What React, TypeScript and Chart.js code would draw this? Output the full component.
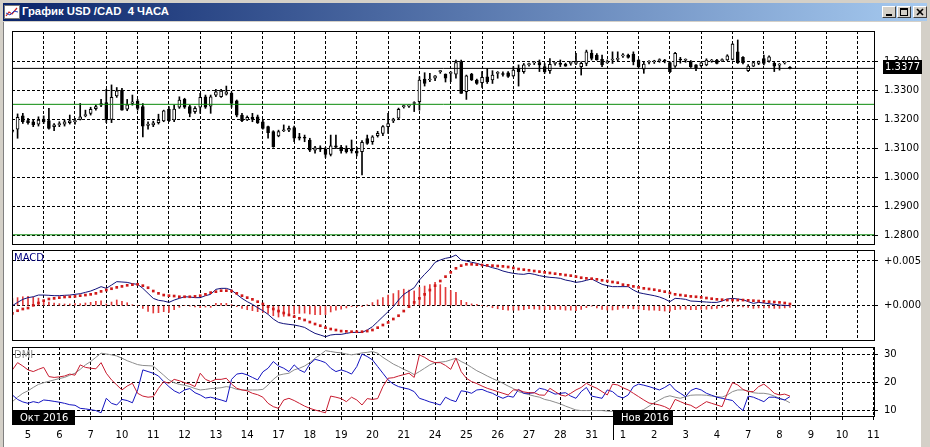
import React, { useEffect, useRef } from "react";
import { Chart, registerables } from "chart.js";

Chart.register(...registerables);

// ---------------- data ----------------
const dayLabels = ["5", "6", "7", "10", "11", "12", "13", "14", "17", "18", "19", "20", "21", "24", "25", "26", "27", "28", "31", "1", "2", "3", "4", "7", "8", "9", "10", "11"];
const monthLabels = ["Окт 2016", "Нов 2016"];

const opens = [
  1.3162, 1.3167, 1.3213, 1.3197, 1.3193, 1.3185, 1.3202, 1.3197, 1.3176, 1.3182,
  1.3185, 1.3190, 1.3193, 1.3201, 1.3214, 1.3222, 1.3238, 1.3250, 1.3259, 1.3201,
  1.3282, 1.3302, 1.3236, 1.3256, 1.3264, 1.3245, 1.3180, 1.3182, 1.3190, 1.3196,
  1.3236, 1.3199, 1.3243, 1.3270, 1.3245, 1.3228, 1.3243, 1.3279, 1.3247, 1.3285,
  1.3279, 1.3288, 1.3291, 1.3265, 1.3216, 1.3199, 1.3208, 1.3210, 1.3193, 1.3176,
  1.3159, 1.3144, 1.3162, 1.3164, 1.3173, 1.3141, 1.3139, 1.3130, 1.3095, 1.3103,
  1.3098, 1.3080, 1.3110, 1.3105, 1.3100, 1.3098, 1.3092, 1.3090, 1.3135, 1.3124,
  1.3145, 1.3153, 1.3176, 1.3196, 1.3205, 1.3245, 1.3247, 1.3256, 1.3262, 1.3340,
  1.3337, 1.3343, 1.3366, 1.3357, 1.3360, 1.3357, 1.3400, 1.3297, 1.3357, 1.3337,
  1.3328, 1.3348, 1.3337, 1.3360, 1.3358, 1.3362, 1.3351, 1.3377, 1.3366, 1.3390,
  1.3396, 1.3397, 1.3383, 1.3369, 1.3394, 1.3392, 1.3392, 1.3394, 1.3394, 1.3383,
  1.3394, 1.3429, 1.3423, 1.3408, 1.3397, 1.3406, 1.3408, 1.3420, 1.3423, 1.3426,
  1.3406, 1.3374, 1.3398, 1.3400, 1.3404, 1.3404, 1.3397, 1.3385, 1.3408, 1.3405,
  1.3400, 1.3389, 1.3386, 1.3389, 1.3402, 1.3406, 1.3404, 1.3406, 1.3408, 1.3434,
  1.3415, 1.3369, 1.3385, 1.3394, 1.3411, 1.3402, 1.3394, 1.3388, 1.3396, 1.3380,
];
const highs = [
  1.3167, 1.3220, 1.3222, 1.3205, 1.3199, 1.3210, 1.3213, 1.3239, 1.3187, 1.3193,
  1.3199, 1.3216, 1.3205, 1.3256, 1.3233, 1.3243, 1.3250, 1.3270, 1.3305, 1.3320,
  1.3311, 1.3308, 1.3270, 1.3285, 1.3270, 1.3256, 1.3193, 1.3195, 1.3219, 1.3233,
  1.3245, 1.3250, 1.3279, 1.3274, 1.3250, 1.3245, 1.3291, 1.3285, 1.3285, 1.3305,
  1.3305, 1.3316, 1.3296, 1.3268, 1.3222, 1.3213, 1.3222, 1.3216, 1.3199, 1.3178,
  1.3162, 1.3164, 1.3182, 1.3178, 1.3178, 1.3153, 1.3147, 1.3136, 1.3108, 1.3110,
  1.3105, 1.3147, 1.3147, 1.3112, 1.3110, 1.3130, 1.3105, 1.3128, 1.3147, 1.3145,
  1.3160, 1.3180, 1.3222, 1.3205, 1.3240, 1.3250, 1.3252, 1.3262, 1.3348, 1.3362,
  1.3360, 1.3352, 1.3370, 1.3358, 1.3366, 1.3406, 1.3406, 1.3354, 1.3360, 1.3340,
  1.3366, 1.3377, 1.3369, 1.3366, 1.3365, 1.3366, 1.3383, 1.3389, 1.3394, 1.3395,
  1.3400, 1.3406, 1.3394, 1.3411, 1.3398, 1.3406, 1.3395, 1.3400, 1.3429, 1.3400,
  1.3440, 1.3440, 1.3428, 1.3423, 1.3406, 1.3434, 1.3434, 1.3428, 1.3426, 1.3434,
  1.3408, 1.3400, 1.3404, 1.3405, 1.3410, 1.3408, 1.3400, 1.3432, 1.3415, 1.3410,
  1.3404, 1.3390, 1.3400, 1.3410, 1.3408, 1.3408, 1.3410, 1.3424, 1.3463, 1.3475,
  1.3418, 1.3390, 1.3400, 1.3402, 1.3423, 1.3420, 1.3400, 1.3394, 1.3399, 1.3383,
];
const lows = [
  1.3155, 1.3136, 1.3187, 1.3185, 1.3176, 1.3178, 1.3187, 1.3167, 1.3162, 1.3176,
  1.3178, 1.3185, 1.3185, 1.3199, 1.3210, 1.3216, 1.3233, 1.3245, 1.3190, 1.3190,
  1.3277, 1.3233, 1.3231, 1.3250, 1.3233, 1.3141, 1.3167, 1.3176, 1.3185, 1.3193,
  1.3193, 1.3193, 1.3239, 1.3239, 1.3210, 1.3222, 1.3222, 1.3239, 1.3222, 1.3279,
  1.3277, 1.3285, 1.3243, 1.3210, 1.3193, 1.3197, 1.3193, 1.3187, 1.3167, 1.3136,
  1.3105, 1.3141, 1.3159, 1.3159, 1.3124, 1.3130, 1.3124, 1.3090, 1.3085, 1.3090,
  1.3070, 1.3075, 1.3100, 1.3085, 1.3085, 1.3085, 1.3075, 1.3010, 1.3115, 1.3115,
  1.3140, 1.3145, 1.3153, 1.3190, 1.3200, 1.3240, 1.3242, 1.3228, 1.3233, 1.3316,
  1.3331, 1.3335, 1.3360, 1.3330, 1.3331, 1.3343, 1.3291, 1.3270, 1.3335, 1.3322,
  1.3311, 1.3325, 1.3325, 1.3343, 1.3350, 1.3346, 1.3348, 1.3316, 1.3360, 1.3385,
  1.3390, 1.3366, 1.3360, 1.3360, 1.3388, 1.3383, 1.3384, 1.3388, 1.3390, 1.3354,
  1.3386, 1.3406, 1.3405, 1.3383, 1.3394, 1.3394, 1.3402, 1.3415, 1.3412, 1.3389,
  1.3380, 1.3360, 1.3392, 1.3394, 1.3398, 1.3396, 1.3362, 1.3380, 1.3395, 1.3398,
  1.3380, 1.3369, 1.3382, 1.3386, 1.3398, 1.3392, 1.3400, 1.3404, 1.3406, 1.3394,
  1.3392, 1.3366, 1.3383, 1.3390, 1.3389, 1.3398, 1.3366, 1.3371, 1.3392, 1.3375,
];
const closes = [
  1.3160, 1.3208, 1.3193, 1.3190, 1.3182, 1.3199, 1.3193, 1.3170, 1.3182, 1.3187,
  1.3193, 1.3196, 1.3197, 1.3210, 1.3216, 1.3236, 1.3245, 1.3256, 1.3201, 1.3277,
  1.3300, 1.3233, 1.3251, 1.3262, 1.3239, 1.3178, 1.3185, 1.3189, 1.3199, 1.3231,
  1.3197, 1.3237, 1.3268, 1.3243, 1.3222, 1.3239, 1.3277, 1.3243, 1.3279, 1.3296,
  1.3299, 1.3296, 1.3256, 1.3216, 1.3197, 1.3208, 1.3201, 1.3189, 1.3170, 1.3155,
  1.3107, 1.3159, 1.3164, 1.3170, 1.3136, 1.3136, 1.3136, 1.3095, 1.3103, 1.3098,
  1.3080, 1.3110, 1.3105, 1.3092, 1.3090, 1.3092, 1.3085, 1.3122, 1.3118, 1.3141,
  1.3153, 1.3176, 1.3187, 1.3201, 1.3236, 1.3245, 1.3248, 1.3257, 1.3337, 1.3325,
  1.3338, 1.3351, 1.3366, 1.3343, 1.3361, 1.3397, 1.3291, 1.3351, 1.3337, 1.3325,
  1.3346, 1.3331, 1.3354, 1.3361, 1.3356, 1.3349, 1.3371, 1.3366, 1.3389, 1.3392,
  1.3397, 1.3389, 1.3366, 1.3391, 1.3394, 1.3391, 1.3385, 1.3394, 1.3396, 1.3394,
  1.3434, 1.3411, 1.3406, 1.3389, 1.3397, 1.3406, 1.3408, 1.3423, 1.3415, 1.3400,
  1.3383, 1.3392, 1.3400, 1.3401, 1.3406, 1.3402, 1.3366, 1.3429, 1.3406, 1.3406,
  1.3383, 1.3378, 1.3396, 1.3406, 1.3403, 1.3394, 1.3406, 1.3420, 1.3461, 1.3397,
  1.3397, 1.3385, 1.3397, 1.3400, 1.3394, 1.3417, 1.3385, 1.3389, 1.3397, 1.3377,
];
const greenLevels = [1.3253, 1.2803];
const lastPrice = 1.3377;
const priceTicks = [1.28, 1.29, 1.3, 1.31, 1.32, 1.33, 1.34];

// MACD values in thousandths (x0.001)
const macdMain = [
  0.0, 0.37, 0.71, 0.9, 1.0, 1.19, 1.19, 1.16, 1.12, 1.12,
  1.16, 1.19, 1.27, 1.34, 1.49, 1.64, 1.87, 2.13, 1.94, 2.31,
  2.69, 2.65, 2.61, 2.46, 2.39, 1.94, 1.38, 0.82, 0.6, 0.52,
  0.37, 0.63, 0.82, 1.0, 0.97, 0.9, 0.9, 1.12, 1.27, 1.83,
  1.94, 1.94, 1.75, 1.27, 0.82, 0.45, 0.15, -0.22, -0.56, -0.97,
  -1.49, -1.87, -2.01, -2.09, -2.16, -2.28, -2.43, -2.78, -3.1, -3.28,
  -3.47, -3.28, -3.21, -3.21, -3.1, -2.99, -2.99, -2.99, -2.72, -2.35,
  -1.79, -1.23, -0.67, -0.11, 0.63, 1.27, 1.64, 2.01, 2.87, 3.51,
  4.1, 4.85, 5.11, 5.3, 5.41, 5.67, 5.11, 5.0, 4.85, 4.74,
  4.55, 4.44, 4.25, 4.1, 3.88, 3.73, 3.62, 3.54, 3.51, 3.62,
  3.51, 3.36, 3.25, 3.17, 3.13, 3.06, 2.87, 2.76, 2.61, 2.69,
  2.84, 2.99, 2.69, 2.39, 2.24, 2.13, 2.13, 2.13, 2.13, 1.75,
  1.46, 1.34, 1.23, 1.12, 0.97, 0.75, 0.45, 0.82, 0.78, 0.71,
  0.52, 0.49, 0.45, 0.41, 0.37, 0.37, 0.52, 0.75, 0.82, 0.75,
  0.67, 0.45, 0.26, 0.37, 0.3, 0.22, 0.15, 0.07, 0.04, 0.0,
];
const macdSignal = [
  -0.86, -0.56, -0.37, -0.26, 0.04, 0.3, 0.56, 0.75, 0.82, 0.9,
  0.97, 1.0, 1.04, 1.12, 1.19, 1.27, 1.38, 1.6, 1.75, 1.9,
  2.05, 2.16, 2.28, 2.35, 2.39, 2.24, 2.01, 1.64, 1.38, 1.19,
  1.12, 1.08, 1.0, 1.0, 1.0, 1.04, 1.12, 1.27, 1.46, 1.57,
  1.68, 1.68, 1.64, 1.38, 1.12, 0.9, 0.71, 0.45, 0.19, -0.11,
  -0.37, -0.6, -0.82, -1.04, -1.23, -1.42, -1.6, -1.83, -2.05, -2.24,
  -2.46, -2.61, -2.72, -2.84, -2.87, -2.91, -2.91, -2.91, -2.84, -2.72,
  -2.46, -2.16, -1.87, -1.49, -1.12, -0.6, -0.11, 0.37, 0.82, 1.27,
  1.75, 2.24, 2.76, 3.25, 3.73, 4.18, 4.48, 4.63, 4.63, 4.59,
  4.55, 4.51, 4.48, 4.44, 4.4, 4.33, 4.22, 4.1, 4.03, 3.96,
  3.88, 3.81, 3.73, 3.66, 3.58, 3.51, 3.43, 3.36, 3.25, 3.13,
  3.06, 3.02, 2.95, 2.84, 2.76, 2.65, 2.57, 2.35, 2.28, 2.16,
  2.05, 1.94, 1.87, 1.79, 1.68, 1.57, 1.42, 1.27, 1.19, 1.12,
  1.04, 1.0, 0.93, 0.86, 0.78, 0.71, 0.67, 0.63, 0.63, 0.63,
  0.63, 0.6, 0.56, 0.52, 0.49, 0.45, 0.41, 0.37, 0.3, 0.19,
];
const macdHist = [
  0.8, 0.9, 1.0, 1.05, 0.95, 0.85, 0.6, 0.4, 0.3, 0.22,
  0.19, 0.19, 0.23, 0.22, 0.3, 0.37, 0.49, 0.53, 0.19, 0.41,
  0.64, 0.49, 0.33, 0.11, 0.0, -0.3, -0.63, -0.82, -0.78, -0.67,
  -0.75, -0.45, -0.18, 0.0, -0.03, -0.14, -0.22, -0.15, -0.19, 0.26,
  0.26, 0.26, 0.11, -0.11, -0.3, -0.45, -0.56, -0.67, -0.75, -0.86,
  -1.12, -1.27, -1.19, -1.05, -0.93, -0.86, -0.83, -0.93, -1.0, -1.0,
  -1.0, -0.7, -0.5, -0.4, -0.25, -0.1, -0.1, -0.1, 0.1, 0.35,
  0.65, 0.9, 1.2, 1.35, 1.7, 1.85, 1.75, 1.65, 2.05, 2.2,
  2.35, 2.6, 2.35, 2.05, 1.7, 1.5, 0.6, 0.37, 0.2, 0.15,
  0.0, -0.07, -0.23, -0.34, -0.45, -0.5, -0.5, -0.5, -0.45, -0.34,
  -0.37, -0.42, -0.45, -0.45, -0.42, -0.42, -0.5, -0.5, -0.55, -0.42,
  -0.22, -0.03, -0.26, -0.42, -0.48, -0.48, -0.42, -0.25, -0.3, -0.35,
  -0.4, -0.45, -0.5, -0.5, -0.55, -0.6, -0.6, -0.45, -0.4, -0.4,
  -0.45, -0.45, -0.4, -0.4, -0.35, -0.3, -0.2, -0.1, -0.05, -0.1,
  -0.15, -0.2, -0.3, -0.25, -0.25, -0.25, -0.3, -0.3, -0.25, -0.2,
];
const macdTicks = [0, 5];

const dmiRed = [
  24.4, 27.0, 25.8, 24.4, 23.8, 24.6, 25.3, 22.0, 21.7, 21.9,
  22.2, 22.9, 22.5, 26.2, 25.3, 25.0, 24.8, 27.0, 23.2, 20.8,
  19.0, 17.2, 18.6, 19.6, 16.0, 15.0, 14.6, 14.8, 17.8, 20.2,
  19.6, 21.0, 20.5, 19.8, 19.3, 18.4, 23.2, 21.0, 20.2, 21.0,
  21.0, 21.4, 19.3, 17.8, 17.2, 16.9, 16.0, 15.5, 14.6, 12.4,
  11.2, 10.6, 13.6, 14.2, 13.4, 12.4, 11.4, 10.6, 10.0, 9.5,
  9.0, 15.0, 14.6, 14.1, 13.0, 14.6, 13.6, 11.8, 14.1, 13.8,
  14.1, 18.4, 21.4, 21.6, 22.2, 22.7, 23.2, 21.7, 29.8, 28.9,
  27.7, 27.0, 27.0, 26.0, 24.6, 28.6, 23.8, 21.4, 20.2, 19.5,
  18.6, 17.8, 17.2, 16.6, 16.0, 15.4, 17.2, 17.2, 16.5, 16.2,
  16.2, 15.4, 15.3, 17.8, 16.6, 15.4, 15.0, 16.0, 17.2, 18.1,
  19.6, 18.6, 17.8, 16.6, 15.4, 19.3, 19.0, 18.0, 17.2, 16.0,
  14.8, 13.6, 12.5, 12.2, 11.8, 11.2, 10.2, 13.8, 13.0, 12.2,
  11.7, 10.6, 11.8, 13.0, 12.4, 11.8, 11.2, 16.0, 19.8, 19.0,
  17.4, 16.6, 16.6, 18.4, 19.3, 17.8, 16.0, 15.4, 15.7, 15.0,
];
const dmiBlue = [
  15.4, 13.8, 12.9, 12.4, 13.0, 12.6, 13.6, 13.4, 13.1, 12.8,
  12.4, 11.9, 11.7, 10.6, 10.4, 10.1, 9.8, 9.0, 14.2, 12.4,
  11.8, 13.8, 13.4, 12.6, 17.2, 24.4, 23.8, 23.2, 22.2, 20.2,
  18.4, 16.9, 16.0, 17.2, 17.7, 16.2, 15.4, 14.3, 14.6, 14.1,
  13.6, 13.0, 21.0, 22.9, 23.2, 22.6, 21.7, 20.8, 23.7, 25.0,
  27.4, 25.8, 25.0, 23.8, 26.2, 24.4, 23.5, 26.5, 28.2, 27.7,
  27.0, 25.0, 23.8, 24.4, 23.8, 22.9, 25.6, 30.1, 29.2, 28.0,
  25.6, 23.2, 20.8, 19.3, 18.4, 17.9, 17.5, 16.6, 14.2, 13.6,
  12.9, 12.4, 11.8, 14.6, 13.6, 13.0, 16.9, 16.6, 16.0, 17.2,
  17.4, 16.6, 16.0, 15.0, 14.2, 15.0, 14.6, 17.4, 16.0, 16.0,
  16.2, 17.8, 17.4, 16.6, 15.7, 16.0, 16.2, 15.0, 14.2, 16.6,
  18.1, 15.0, 14.6, 14.2, 17.2, 16.6, 15.0, 14.3, 15.4, 18.4,
  19.3, 18.9, 18.4, 17.8, 17.2, 18.1, 19.3, 17.2, 16.0, 14.8,
  17.0, 17.8, 17.2, 16.0, 15.3, 14.6, 14.2, 13.8, 13.4, 11.4,
  9.8, 15.0, 14.6, 13.8, 13.0, 14.6, 14.6, 14.1, 13.6, 14.8,
];
const dmiAdx = [
  13.0, 14.6, 16.0, 16.9, 18.1, 19.2, 19.8, 20.3, 20.8, 21.3,
  21.7, 22.5, 23.2, 24.6, 26.2, 27.4, 28.9, 30.4, 30.1, 29.8,
  29.4, 28.6, 27.7, 27.0, 26.3, 26.0, 25.9, 25.8, 24.1, 22.5,
  20.8, 19.8, 19.2, 18.9, 18.4, 17.7, 17.2, 17.4, 17.7, 17.8,
  18.0, 18.4, 18.1, 17.4, 17.2, 17.2, 17.2, 17.2, 17.4, 19.0,
  21.0, 22.5, 22.9, 23.2, 24.4, 25.0, 25.8, 27.0, 28.6, 29.8,
  31.3, 31.0, 30.7, 30.5, 30.1, 29.8, 30.1, 30.5, 30.7, 31.0,
  30.4, 28.9, 27.7, 26.5, 25.6, 24.6, 23.8, 22.7, 23.8, 25.0,
  26.2, 27.0, 27.2, 27.4, 28.0, 28.6, 27.4, 26.5, 25.3, 24.1,
  23.2, 22.2, 21.3, 20.5, 19.6, 18.6, 17.7, 16.6, 16.0, 15.5,
  15.0, 14.6, 13.8, 13.4, 12.8, 12.2, 11.4, 10.7, 10.0, 9.8,
  9.8, 9.8, 9.8, 9.8, 9.6, 9.5, 9.8, 9.8, 9.6, 9.5,
  9.5, 10.2, 11.4, 12.6, 13.6, 14.6, 15.1, 14.6, 14.2, 14.8,
  15.3, 15.4, 15.4, 15.3, 15.0, 14.8, 14.6, 15.4, 16.6, 17.2,
  17.2, 16.9, 16.2, 16.0, 16.0, 15.7, 15.0, 14.2, 13.6, 12.6,
];
const dmiTicks = [10, 20, 30];

// ---------------- layout / style ----------------
const FONT = "'DejaVu Sans', sans-serif";
const X_MIN = -0.07;
const X_MAX = 165.3;
const FIRST_DAY_BAR = 3;
const BARS_PER_DAY = 6;
const NOV_LABEL_BAR = 115;

function xAxis(withLabels: boolean) {
  return {
    type: "linear",
    min: X_MIN,
    max: X_MAX,
    offset: false,
    bounds: "data",
    afterBuildTicks: (s: any) => {
      s.ticks = dayLabels.map((_, k) => ({ value: FIRST_DAY_BAR + k * BARS_PER_DAY }));
    },
    afterFit: (s: any) => {
      s.height = withLabels ? 30 : 0;
    },
    ticks: {
      display: withLabels,
      autoSkip: false,
      maxRotation: 0,
      minRotation: 0,
      padding: 9,
      color: "#000",
      font: { family: FONT, size: 10 },
      callback: (_v: any, i: number) => dayLabels[i],
    },
    grid: { color: "#000", lineWidth: 1, drawTicks: withLabels, tickLength: 3, tickColor: "#000", tickBorderDash: [] },
    border: { display: false, dash: [3, 2] },
  };
}

function yAxis(min: number, max: number, ticks: number[], fmt: (v: number) => string) {
  return {
    type: "linear",
    position: "right",
    min,
    max,
    bounds: "data",
    afterBuildTicks: (s: any) => {
      s.ticks = ticks.map((v) => ({ value: v }));
    },
    afterFit: (s: any) => {
      s.width = 55;
    },
    ticks: {
      autoSkip: false,
      padding: 6,
      color: "#000",
      font: { family: FONT, size: 10 },
      callback: (v: any) => fmt(Number(v)),
    },
    grid: { color: "#000", lineWidth: 1, drawTicks: true, tickLength: 3, tickColor: "#000", tickBorderDash: [] },
    border: { display: false, dash: [3, 2] },
  };
}

const framePlugin = {
  id: "panelFrame",
  afterDraw(chart: any) {
    const { ctx, chartArea: a } = chart;
    ctx.save();
    ctx.strokeStyle = "#000";
    ctx.lineWidth = 1;
    ctx.strokeRect(Math.round(a.left) + 0.5, Math.round(a.top) + 0.5, Math.round(a.right - a.left) - 1, Math.round(a.bottom - a.top) - 1);
    ctx.restore();
  },
};

function baseOptions(top: number, bottom: number, scales: any) {
  return {
    responsive: false,
    maintainAspectRatio: false,
    animation: false,
    events: [],
    layout: { padding: { left: 12, right: 0, top, bottom } },
    plugins: { legend: { display: false }, tooltip: { enabled: false } },
    scales,
  };
}

function priceConfig(): any {
  const bull = opens.map((o, i) => closes[i] >= o);
  return {
    type: "bar",
    data: {
      datasets: [
        ...greenLevels.map((lv) => ({
          type: "line",
          data: [{ x: X_MIN, y: lv }, { x: X_MAX, y: lv }],
          borderColor: "#0a8a0a",
          borderWidth: 1,
          pointRadius: 0,
          order: 0,
        })),
        {
          type: "line",
          data: [{ x: X_MIN, y: lastPrice }, { x: X_MAX, y: lastPrice }],
          borderColor: "#000",
          borderWidth: 1,
          pointRadius: 0,
          order: 0,
        },
        {
          type: "bar",
          data: opens.map((o, i) => ({ x: i, y: [o, closes[i]] })),
          backgroundColor: bull.map((b) => (b ? "#fff" : "#000")),
          borderColor: "#000",
          borderWidth: 1,
          borderSkipped: false,
          barThickness: 3,
          minBarLength: 1,
          grouped: false,
          order: 1,
        },
        {
          type: "bar",
          data: lows.map((l, i) => ({ x: i, y: [l, highs[i]] })),
          backgroundColor: "#000",
          borderWidth: 0,
          barThickness: 1,
          minBarLength: 1,
          grouped: false,
          order: 2,
        },
      ],
    },
    options: baseOptions(31, 447 - 245, {
      x: xAxis(false),
      y: yAxis(1.27679, 1.35059, priceTicks, (v) => v.toFixed(4)),
    }),
    plugins: [
      framePlugin,
      {
        id: "priceTag",
        afterDraw(chart: any) {
          const { ctx, chartArea: a } = chart;
          const y = Math.round(chart.scales.y.getPixelForValue(lastPrice));
          ctx.save();
          ctx.fillStyle = "#000";
          ctx.fillRect(a.right + 8, y - 8, 39, 14);
          ctx.fillStyle = "#fff";
          ctx.font = `10px ${FONT}`;
          ctx.textBaseline = "middle";
          ctx.fillText(lastPrice.toFixed(4), a.right + 10, y - 0.5);
          ctx.restore();
        },
      },
    ],
  };
}

function macdConfig(): any {
  return {
    type: "bar",
    data: {
      datasets: [
        {
          type: "line",
          data: macdSignal.map((v, i) => ({ x: i, y: v })),
          showLine: false,
          pointStyle: "rect",
          pointRadius: 1.9,
          pointBorderWidth: 0,
          pointBackgroundColor: "#d01818",
          order: 0,
        },
        {
          type: "line",
          data: macdMain.map((v, i) => ({ x: i, y: v })),
          borderColor: "#10107a",
          borderWidth: 1,
          pointRadius: 0,
          tension: 0,
          order: 1,
        },
        {
          type: "bar",
          data: macdHist.map((v, i) => ({ x: i, y: v })),
          backgroundColor: "#e23a3a",
          borderWidth: 0,
          barThickness: 1,
          grouped: false,
          order: 2,
        },
      ],
    },
    options: baseOptions(250, 447 - 341, {
      x: xAxis(false),
      y: yAxis(-3.95, 6.23, macdTicks, (v) => "+" + (v * 0.001).toFixed(3)),
    }),
    plugins: [
      framePlugin,
      {
        id: "macdTitle",
        afterDraw(chart: any) {
          const { ctx, chartArea: a } = chart;
          ctx.save();
          ctx.fillStyle = "#000080";
          ctx.font = `10px ${FONT}`;
          ctx.textBaseline = "middle";
          ctx.fillText("MACD", a.left + 2, a.top + 8);
          ctx.restore();
        },
      },
    ],
  };
}

function dmiConfig(): any {
  const line = (arr: number[], color: string, order: number) => ({
    type: "line",
    data: arr.map((v, i) => ({ x: i, y: v })),
    borderColor: color,
    borderWidth: 1,
    pointRadius: 0,
    tension: 0,
    order,
  });
  return {
    type: "line",
    data: {
      datasets: [line(dmiRed, "#c81c30", 0), line(dmiBlue, "#1414c0", 1), line(dmiAdx, "#8c8c8c", 2)],
    },
    options: baseOptions(347, 0, {
      x: xAxis(true),
      y: yAxis(7.49, 32.62, dmiTicks, (v) => String(Math.round(v))),
    }),
    plugins: [
      framePlugin,
      {
        id: "dmiDecor",
        afterDraw(chart: any) {
          const { ctx, chartArea: a } = chart;
          ctx.save();
          ctx.fillStyle = "#8c8c8c";
          ctx.font = `10px ${FONT}`;
          ctx.textBaseline = "middle";
          ctx.fillText("DMI", a.left + 2, a.top + 8);
          const boxTop = a.bottom - 7;
          ctx.fillStyle = "#000";
          ctx.fillRect(a.left, boxTop, 63, 15);
          const nx = Math.round(chart.scales.x.getPixelForValue(NOV_LABEL_BAR));
          ctx.fillRect(nx, boxTop, 60, 15);
          ctx.fillRect(nx, boxTop, 1, 30);
          ctx.fillStyle = "#fff";
          ctx.fillText(monthLabels[0], a.left + 8, boxTop + 8);
          ctx.fillText(monthLabels[1], nx + 8, boxTop + 8);
          ctx.restore();
        },
      },
    ],
  };
}

function WinButton({ kind, left }: { kind: "min" | "max" | "close"; left: number }) {
  return (
    <div
      style={{
        position: "absolute",
        left,
        top: 6,
        width: 14,
        height: 12,
        background: "#d4d0c8",
        borderTop: "1px solid #fff",
        borderLeft: "1px solid #fff",
        borderRight: "1px solid #404040",
        borderBottom: "1px solid #404040",
        boxSizing: "border-box",
      }}
    >
      <svg width="12" height="10" style={{ position: "absolute", left: 0, top: 0 }}>
        {kind === "min" && <rect x="3" y="7" width="6" height="2" fill="#000" />}
        {kind === "max" && (
          <g>
            <rect x="2.5" y="1.5" width="7" height="7" fill="none" stroke="#000" strokeWidth="1" />
            <rect x="2" y="1" width="8" height="2" fill="#000" />
          </g>
        )}
        {kind === "close" && (
          <g stroke="#000" strokeWidth="1.6">
            <line x1="3" y1="2" x2="9" y2="8" />
            <line x1="9" y1="2" x2="3" y2="8" />
          </g>
        )}
      </svg>
    </div>
  );
}

export default function App() {
  const priceRef = useRef<HTMLCanvasElement>(null);
  const macdRef = useRef<HTMLCanvasElement>(null);
  const dmiRef = useRef<HTMLCanvasElement>(null);

  useEffect(() => {
    const charts = [
      new Chart(priceRef.current as HTMLCanvasElement, priceConfig()),
      new Chart(macdRef.current as HTMLCanvasElement, macdConfig()),
      new Chart(dmiRef.current as HTMLCanvasElement, dmiConfig()),
    ];
    return () => charts.forEach((c) => c.destroy());
  }, []);

  const canvasStyle: React.CSSProperties = { position: "absolute", left: 0, top: 0, width: 930, height: 447 };

  return (
    <div style={{ position: "fixed", left: 0, top: 0, width: 930, height: 447, background: "#d4d0c8", overflow: "hidden" }}>
      <div style={{ position: "absolute", left: 3, top: 3, width: 924, height: 18, background: "linear-gradient(to right, #0a246a, #a6caf0)" }} />
      <svg width="16" height="14" style={{ position: "absolute", left: 4, top: 5 }}>
        <rect x="0.5" y="0.5" width="15" height="13" fill="#fff" stroke="#7a7a7a" />
        <polyline points="2,11 5,7 8,9 13,3" fill="none" stroke="#d02020" strokeWidth="1.2" />
        <polyline points="2,8 6,10 10,6 14,7" fill="none" stroke="#2040c0" strokeWidth="1" />
      </svg>
      <div
        style={{
          position: "absolute",
          left: 22,
          top: 3,
          height: 17,
          lineHeight: "17px",
          color: "#fff",
          fontFamily: "'Liberation Sans', Arial, sans-serif",
          fontWeight: "bold",
          fontSize: 11.3,
          whiteSpace: "pre",
        }}
      >
        {"График USD /CAD  4 ЧАСА"}
      </div>
      <WinButton kind="min" left={882} />
      <WinButton kind="max" left={897} />
      <WinButton kind="close" left={913} />
      <div style={{ position: "absolute", left: 4, top: 22, width: 917, height: 425, background: "#fff" }} />
      <div style={{ position: "absolute", left: 3, top: 22, width: 1, height: 425, background: "#808080" }} />
      <canvas ref={priceRef} width={930} height={447} style={canvasStyle} />
      <canvas ref={macdRef} width={930} height={447} style={canvasStyle} />
      <canvas ref={dmiRef} width={930} height={447} style={canvasStyle} />
    </div>
  );
}
